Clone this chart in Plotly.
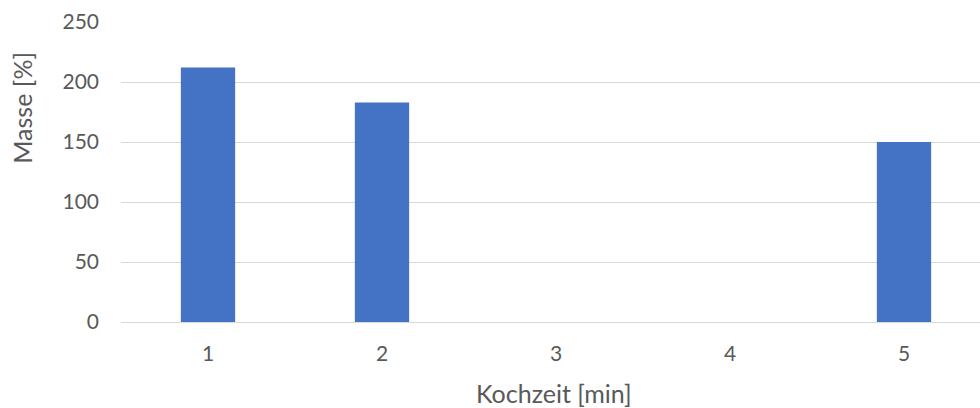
import plotly.graph_objects as go

categories = ["1", "2", "3", "4", "5"]
masse = [212, 183, None, None, 150]
y_ticks = [0, 50, 100, 150, 200, 250]

W, H = 980, 408
L, T, B = 121, 21.5, 408 - 322.3
plot_w = W - L
plot_h = H - T - B

fig = go.Figure()
fig.add_trace(go.Bar(
    x=categories, y=masse,
    marker=dict(color="#4472c4", line=dict(width=0)),
))

font_fam = "Lato, 'Open Sans', sans-serif"
grey = "#595959"

fig.update_layout(
    width=W, height=H,
    margin=dict(l=L, r=0, t=T, b=B),
    paper_bgcolor="white", plot_bgcolor="white",
    bargap=0.688,
    showlegend=False,
    font=dict(family=font_fam, color=grey, size=21),
    xaxis=dict(
        type="category",
        range=[-0.5, -0.5 + plot_w / 174.0],
        showgrid=False, zeroline=False,
        showline=False,
        ticks="", ticklabelstandoff=17,
        tickfont=dict(size=21, color=grey, family=font_fam),
    ),
    yaxis=dict(
        range=[0, 250],
        tickvals=y_ticks,
        showgrid=True, gridcolor="#d9d9d9", gridwidth=1,
        zeroline=True, zerolinecolor="#d9d9d9", zerolinewidth=1,
        showline=False, ticks="", ticklabelstandoff=21,
        tickfont=dict(size=21, color=grey, family=font_fam),
    ),
    annotations=[
        dict(text="Kochzeit [min]", xref="paper", yref="paper",
             x=(554 - L) / plot_w, y=(322.3 - 393) / plot_h,
             xanchor="center", yanchor="middle", showarrow=False,
             font=dict(size=25, color=grey, family=font_fam)),
        dict(text="Masse [%]", xref="paper", yref="paper",
             x=(22 - L) / plot_w, y=(322.3 - 107.5) / plot_h,
             xanchor="center", yanchor="middle", showarrow=False,
             textangle=-90,
             font=dict(size=25, color=grey, family=font_fam)),
    ],
)

fig.write_html("out.html")
